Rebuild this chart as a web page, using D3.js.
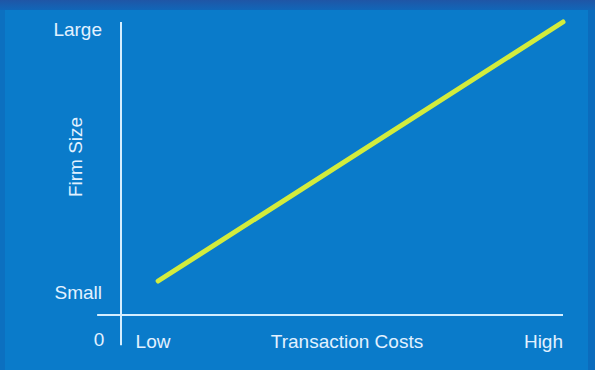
<!DOCTYPE html>
<html>
<head>
<meta charset="utf-8">
<script src="https://cdn.jsdelivr.net/npm/d3@7"></script>
<style>
  html, body { margin: 0; padding: 0; background: #0b7ccb; }
  svg { display: block; }
  text { font-family: "Liberation Sans", Arial, sans-serif; }
</style>
</head>
<body>
<svg id="chart" width="595" height="370"></svg>
<script>
// ---- data ----
const yTickLabels = ["Small", "Large"];
const yTickValues = [0.78, 9.73];
const xTickLabels = ["Low", "High"];
const xTickValues = [0.33, 10];
const originLabel = "0";
const xTitle = "Transaction Costs";
const yTitle = "Firm Size";
// relationship: firm size rises with transaction costs
const lineX = [0.84, 10];
const lineY = [1.16, 10];

// ---- layout ----
const W = 595, H = 370;
const FS = 19;
const svg = d3.select("#chart");
const x = d3.scaleLinear().domain([0, 10]).range([121, 563]);
const y = d3.scaleLinear().domain([0, 10]).range([315, 22]);

// background and frame bands
const defs = svg.append("defs");
const g1 = defs.append("linearGradient").attr("id", "topband").attr("x1", 0).attr("y1", 0).attr("x2", 0).attr("y2", 1);
g1.append("stop").attr("offset", "0%").attr("stop-color", "#1f56a6");
g1.append("stop").attr("offset", "100%").attr("stop-color", "#1166b8");
svg.append("rect").attr("width", W).attr("height", H).attr("fill", "#0a7bca");
svg.append("rect").attr("x", 0).attr("y", 0).attr("width", 5).attr("height", H).attr("fill", "#0c70c0");
svg.append("rect").attr("x", 588).attr("y", 0).attr("width", 7).attr("height", H).attr("fill", "#0b6cbd");
svg.append("rect").attr("x", 0).attr("y", 0).attr("width", W).attr("height", 10).attr("fill", "url(#topband)");

const axisColor = "#d4eeff";
const textColor = "#e2f1ff";

// axes (drawn through scales)
svg.append("line")
  .attr("x1", x(0)).attr("x2", x(0))
  .attr("y1", y(10)).attr("y2", y(-1.03))
  .attr("stroke", axisColor).attr("stroke-width", 2);
svg.append("line")
  .attr("x1", x(-0.54)).attr("x2", x(10))
  .attr("y1", y(0)).attr("y2", y(0))
  .attr("stroke", axisColor).attr("stroke-width", 2);

// y tick labels
svg.selectAll(".ylab").data(yTickLabels).enter().append("text")
  .attr("x", 102)
  .attr("y", (d, i) => y(yTickValues[i]) + 6.5)
  .attr("text-anchor", "end")
  .attr("font-size", FS)
  .attr("fill", textColor)
  .text(d => d);

// origin label
svg.append("text")
  .attr("x", 99).attr("y", 346)
  .attr("text-anchor", "middle")
  .attr("font-size", FS).attr("fill", textColor)
  .text(originLabel);

// x tick labels
svg.selectAll(".xlab").data(xTickLabels).enter().append("text")
  .attr("x", (d, i) => x(xTickValues[i]))
  .attr("y", 348)
  .attr("text-anchor", (d, i) => i === 0 ? "start" : "end")
  .attr("font-size", FS)
  .attr("fill", textColor)
  .text(d => d);

// x title
svg.append("text")
  .attr("x", 347).attr("y", 348)
  .attr("text-anchor", "middle")
  .attr("font-size", FS).attr("fill", textColor)
  .text(xTitle);

// y title
svg.append("text")
  .attr("transform", "translate(82,157) rotate(-90)")
  .attr("text-anchor", "middle")
  .attr("font-size", FS).attr("fill", textColor)
  .text(yTitle);

// line
const pts = lineX.map((v, i) => [v, lineY[i]]);
svg.append("path")
  .datum(pts)
  .attr("d", d3.line().x(d => x(d[0])).y(d => y(d[1])))
  .attr("fill", "none")
  .attr("stroke", "#d3ec3c")
  .attr("stroke-width", 5)
  .attr("stroke-linecap", "round");
</script>
</body>
</html>
